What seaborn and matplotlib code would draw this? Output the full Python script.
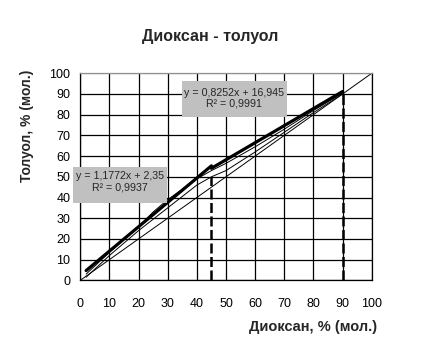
import matplotlib
matplotlib.use("Agg")
import matplotlib.pyplot as plt
import seaborn as sns
import pandas as pd
from matplotlib.patches import Rectangle

# ---- data ----
diag_x = [0, 100]
diag_y = [0, 100]

fit1_x = [2, 45]
fit1_y = [4.7, 55.3]
fit2_x = [45, 90]
fit2_y = [54.1, 91.2]

exp1_x = [2, 10, 20, 25, 30, 35, 40, 45, 50, 60, 70, 80, 90]
exp1_y = [3.0, 13.5, 26.0, 33.0, 39.0, 44.0, 49.0, 53.0, 56.5, 64.5, 73.0, 82.0, 90.5]

exp2_x = [2, 10, 20, 30, 40, 45, 50, 60, 70, 80, 90]
exp2_y = [1.5, 12.0, 24.0, 35.0, 46.0, 50.0, 53.0, 62.0, 71.5, 81.0, 90.0]

drop_x = [45, 90]
drop_top = [50.0, 91.2]

ticks = list(range(0, 101, 10))
title = "Диоксан - толуол"
xlabel = "Диоксан, % (мол.)"
ylabel = "Толуол, % (мол.)"
eq1 = "y = 1,1772x + 2,35\nR² = 0,9937"
eq2 = "y = 0,8252x + 16,945\nR² = 0,9991"

sns.set_style("white")
plt.rcParams['font.family'] = ['Liberation Sans', 'DejaVu Sans']

fig = plt.figure(figsize=(4.22, 3.58), dpi=100)
ax = fig.add_axes([80.3/422, 1-280.3/358, (371.7-80.3)/422, (280.3-73.3)/358])

def line(xs, ys, dashed=False, **kw):
    df = pd.DataFrame({"x": xs, "y": ys})
    ln_before = len(ax.lines)
    sns.lineplot(data=df, x="x", y="y", ax=ax, sort=False, estimator=None, **kw)
    if dashed:
        for l in ax.lines[ln_before:]:
            l.set_dashes((4, 1.4))

line(diag_x, diag_y, color="black", lw=0.7)
line(exp2_x, exp2_y, color="black", lw=0.7)
line(exp1_x, exp1_y, color="black", lw=0.7)
line(fit1_x, fit1_y, color="black", lw=2.3)
line(fit2_x, fit2_y, color="black", lw=2.3)
for xv, top in zip(drop_x, drop_top):
    line([xv, xv], [0, top], dashed=True, color="black", lw=1.8)

ax.set_xlim(0, 100)
ax.set_ylim(0, 100)
ax.set_xticks(ticks)
ax.set_yticks(ticks)
ax.grid(True, color="black", lw=0.9)
ax.set_axisbelow(True)
for s in ax.spines.values():
    s.set_color("black")
    s.set_linewidth(0.9)
ax.spines["top"].set_color("#909090")
ax.yaxis.get_gridlines()[-1].set_color("#909090")
ax.tick_params(axis="both", direction="out", length=3.6, width=0.9, color="black",
               labelsize=9, labelcolor="black")
ax.tick_params(axis="x", pad=9.5)
ax.tick_params(axis="y", pad=3.5)
ax.set_xlabel("")
ax.set_ylabel("")

# equation boxes
ax.add_patch(Rectangle((-2.5, 37.5), 32.2, 17.4, facecolor="#C0C0C0", edgecolor="none",
                       clip_on=False, zorder=5))
ax.text(13.6, 47.6, eq1, ha="center", va="center", fontsize=7.7, zorder=6,
        linespacing=1.15, multialignment="center")
ax.add_patch(Rectangle((34.8, 78.9), 36.1, 17.6, facecolor="#C0C0C0", edgecolor="none",
                       clip_on=False, zorder=5))
ax.text(52.8, 87.9, eq2, ha="center", va="center", fontsize=7.7, zorder=6,
        linespacing=1.15, multialignment="center")

fig.text(210/422, 1-36/358, title, ha="center", va="center", fontsize=11.5, fontweight="bold")
fig.text(377/422, 1-327/358, xlabel, ha="right", va="center", fontsize=10.5, fontweight="bold")
fig.text(27.5/422, 1-126/358, ylabel, ha="center", va="center", rotation=90,
         fontsize=10, fontweight="bold")

fig.savefig("out.png", dpi=100)
